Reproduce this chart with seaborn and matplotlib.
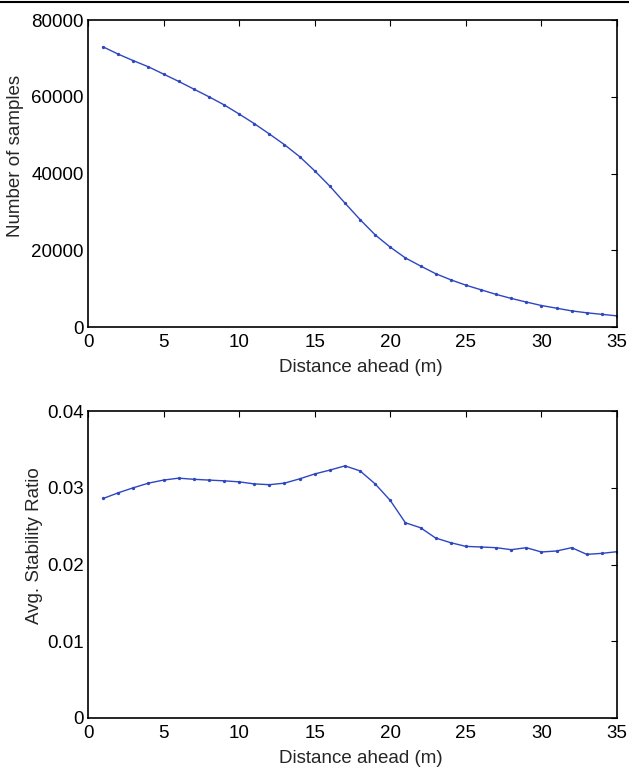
import matplotlib
matplotlib.use("Agg")
import matplotlib.pyplot as plt
import seaborn as sns
import pandas as pd
from matplotlib.lines import Line2D

distance = list(range(1, 36))
samples = [73000, 71100, 69400, 67800, 65900, 64000, 62000, 60000, 57900, 55500,
           53000, 50300, 47500, 44400, 40700, 36700, 32300, 28000, 24000, 20800,
           18000, 15900, 13900, 12300, 10900, 9700, 8500, 7450, 6500, 5600,
           4900, 4200, 3700, 3300, 2900]
stability = [0.0286, 0.02934, 0.0300, 0.0306, 0.0310, 0.03125, 0.0311, 0.0310, 0.0309, 0.03077,
             0.0305, 0.0304, 0.0306, 0.03116, 0.0318, 0.0323, 0.03285, 0.0322, 0.0305, 0.02834,
             0.02544, 0.02479, 0.02345, 0.02284, 0.02236, 0.02228, 0.02219, 0.02193, 0.02219, 0.02163,
             0.02176, 0.02219, 0.02132, 0.02145, 0.02167]

xlabel = "Distance ahead (m)"
ylabel_top = "Number of samples"
ylabel_bot = "Avg. Stability Ratio"
top_yticks = [0, 20000, 40000, 60000, 80000]
bot_yticks = [0, 0.01, 0.02, 0.03, 0.04]
bot_yticklabels = ["0", "0.01", "0.02", "0.03", "0.04"]
xticks = [0, 5, 10, 15, 20, 25, 30, 35]

df = pd.DataFrame({"distance": distance, "samples": samples, "stability": stability})

sns.set_style("white")
plt.rcParams["font.family"] = ["Liberation Sans", "DejaVu Sans"]
plt.rcParams["xtick.direction"] = "in"
plt.rcParams["ytick.direction"] = "in"

W, H = 629, 771
fig = plt.figure(figsize=(W / 100, H / 100), dpi=100)
ax1 = fig.add_axes([88 / W, 1 - 327 / H, 529 / W, 307 / H])
ax2 = fig.add_axes([88 / W, 1 - 718 / H, 529 / W, 307 / H])

color = "#2e46c0"
fs = 13.5

for ax, col, yl, yt, ylab, ylx, yly in [
    (ax1, "samples", (0, 80000), top_yticks, ylabel_top, -0.121, 0.557),
    (ax2, "stability", (0, 0.04), bot_yticks, ylabel_bot, -0.086, 0.560),
]:
    sns.lineplot(data=df, x="distance", y=col, ax=ax, color=color, linewidth=1.0,
                 marker="o", markersize=2.4, markeredgewidth=0)
    ax.set_xlim(0, 35)
    ax.set_ylim(*yl)
    ax.set_xticks(xticks)
    ax.set_yticks(yt)
    ax.set_xlabel(xlabel, fontsize=fs)
    ax.set_ylabel(ylab, fontsize=fs)
    ax.xaxis.set_label_coords(0.516, -0.104)
    ax.yaxis.set_label_coords(ylx, yly)
    ax.tick_params(axis="x", pad=5)
    ax.tick_params(axis="y", pad=3)
    ax.tick_params(axis="both", which="both", direction="in", length=4, width=0.8,
                   top=True, right=True, labelsize=fs, colors="black")
    for s in ax.spines.values():
        s.set_visible(True)
        s.set_color("black")
        s.set_linewidth(1.2)

ax2.set_yticklabels(bot_yticklabels)
ax1.set_yticklabels([str(v) for v in top_yticks])

fig.add_artist(Line2D([0, 1], [1 - 1.5 / H, 1 - 1.5 / H], transform=fig.transFigure,
                      color="black", linewidth=1.5))

fig.savefig("out.png", dpi=100)
